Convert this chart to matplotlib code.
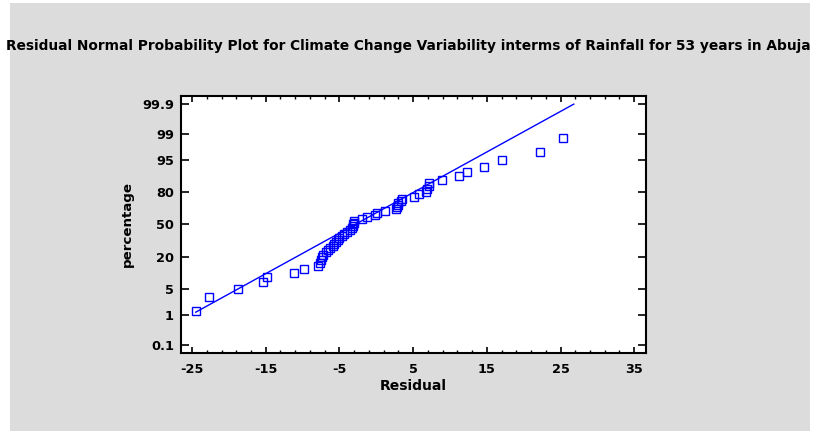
"""Residual normal probability plot (rainfall residuals, Abuja, 53 years)."""
from statistics import NormalDist

import matplotlib
matplotlib.use("Agg")
import matplotlib.pyplot as plt
import numpy as np
from matplotlib.patches import Rectangle

plt.rcParams["font.family"] = ["DejaVu Sans"]
plt.rcParams["axes.unicode_minus"] = False

# residuals, sorted (one per year, 53 in all)
residuals = [
    -24.43, -22.73, -18.72, -15.33, -14.82, -11.16, -9.80, -7.93,
    -7.65, -7.55, -7.42, -7.17, -6.89, -6.60, -6.22, -5.92, -5.71,
    -5.48, -5.24, -5.03, -4.66, -4.33, -4.02, -3.57, -3.34, -3.21,
    -3.12, -3.07, -3.03,
    -1.90, -1.22, -0.18, 0.05, 1.18, 2.64, 2.77, 2.88, 2.99, 3.32,
    3.45, 5.16, 5.84, 6.75, 6.85, 7.20, 7.20, 8.89, 11.24, 12.28,
    14.63, 17.12, 22.15, 25.33,
]

pct_ticks = [0.1, 1, 5, 20, 50, 80, 95, 99, 99.9]
pct_labels = ["0.1", "1", "5", "20", "50", "80", "95", "99", "99.9"]
x_ticks = [-25, -15, -5, 5, 15, 25, 35]

# reference line (normal fit) drawn between these residual values
line_mu, line_sigma = -2.88, 9.63
line_x = [-24.5, 26.8]

BLUE = "#0000ff"
GREY = "#dcdcdc"

nd = NormalDist()
n = len(residuals)
x = np.sort(np.asarray(residuals, float))
z = np.array([nd.inv_cdf((i - 0.3) / (n + 0.4)) for i in range(1, n + 1)])

fig = plt.figure(figsize=(8.16, 4.34), dpi=100)
fig.patch.set_facecolor("white")
fig.patches.append(Rectangle((10 / 816, 3 / 434), 800 / 816, 428 / 434,
                             transform=fig.transFigure, facecolor=GREY,
                             edgecolor="none", zorder=-5))

ax = fig.add_axes([181 / 816, 1 - 353 / 434, 465 / 816, 257 / 434])
ax.set_zorder(2)
ax.set_facecolor("white")

lx = np.asarray(line_x, float)
ax.plot(lx, (lx - line_mu) / line_sigma, color=BLUE, lw=1.0)
ax.plot(x, z, ls="none", marker="s", ms=5.5, mfc="none", mec=BLUE, mew=1.0)

ax.set_xlim(-26.5, 36.6)
ax.set_ylim(-3.29, 3.29)
ax.set_xticks(x_ticks)
ax.set_xticks(np.arange(-23, 35, 2), minor=True)
ax.set_yticks([nd.inv_cdf(p / 100) for p in pct_ticks])
ax.set_yticklabels(pct_labels)

ax.tick_params(axis="x", which="major", direction="in", length=4.5, width=1.2,
               top=True, labelsize=9.3, pad=7)
ax.tick_params(axis="x", which="minor", direction="in", length=2.2, width=1.0, top=True)
ax.tick_params(axis="y", which="major", direction="in", length=6, width=1.2,
               right=True, labelsize=9.3, pad=5)
for lab in ax.get_xticklabels() + ax.get_yticklabels():
    lab.set_fontweight("bold")
for sp in ax.spines.values():
    sp.set_linewidth(1.5)

ax.set_xlabel("Residual", fontsize=10, fontweight="bold", labelpad=2)
ax.set_ylabel("percentage", fontsize=9.6, fontweight="bold", labelpad=6)

fig.text(6 / 816, 1 - 46 / 434,
         "Residual Normal Probability Plot for Climate Change Variability interms of Rainfall for 53 years in Abuja",
         fontsize=9.9, fontweight="bold", ha="left", va="center")

fig.savefig("out.png", dpi=100, facecolor=fig.get_facecolor())
